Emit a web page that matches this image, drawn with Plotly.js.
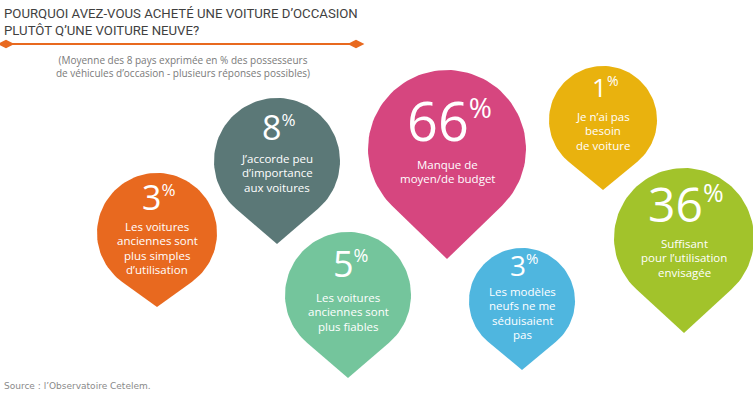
<!DOCTYPE html>
<html>
<head>
<meta charset="utf-8">
<script src="https://cdn.plot.ly/plotly-3.0.1.min.js"></script>
<style>html,body{margin:0;padding:0;background:#fff;}#chart{width:753px;height:395px;}</style>
</head>
<body>
<div id="chart"></div>
<script>
// ---- data ----
const categories = [
  "Les voitures anciennes sont plus simples d’utilisation",
  "J’accorde peu d’importance aux voitures",
  "Les voitures anciennes sont plus fiables",
  "Manque de moyen/de budget",
  "Les modèles neufs ne me séduisaient pas",
  "Je n’ai pas besoin de voiture",
  "Suffisant pour l’utilisation envisagée"
];
const values = [3, 8, 5, 66, 3, 1, 36];
const labelLines = [
  ["Les voitures", "anciennes sont", "plus simples", "d’utilisation"],
  ["J’accorde peu", "d’importance", "aux voitures"],
  ["Les voitures", "anciennes sont", "plus fiables"],
  ["Manque de", "moyen/de budget"],
  ["Les modèles", "neufs ne me", "séduisaient", "pas"],
  ["Je n’ai pas", "besoin", "de voiture"],
  ["Suffisant", "pour l’utilisation", "envisagée"]
];
const titleText = "POURQUOI AVEZ-VOUS ACHETÉ UNE VOITURE D’OCCASION<br>PLUTÔT Q’UNE VOITURE NEUVE?";
const subtitleText = "(Moyenne des 8 pays exprimée en % des possesseurs<br>de véhicules d’occasion - plusieurs réponses possibles)";
const sourceText = "Source : l’Observatoire Cetelem.";

// ---- layout (positions / sizes / styles) ----
const pinCX   = [157, 277, 348, 447, 522, 603, 684];
const pinCY   = [233, 161, 295, 149, 301, 120, 238];
const pinR    = [60, 63, 63, 79, 53, 54, 70];
const pinTipY = [307, 244, 378, 259, 370, 190, 333];
const pinColors = ["#E8691F", "#5B7877", "#74C59C", "#D6467F", "#4FB6DF", "#E9B20E", "#A2C32B"];
const numY    = [197, 127, 263, 120, 265, 87, 203];
const numSize = [34, 34, 36, 54, 28, 26, 48];
const pctSize = [17, 17, 18, 28, 15, 14, 25];
const lblY0   = [226, 158, 297, 164, 291, 116, 243];
const lblStep = 14.5;

const traces = [];
const annotations = [];

function pinPath(cx, cy, r, ty) {
  const d = ty - cy;
  const a = Math.acos(r / d);
  const xs = [], ys = [];
  const start = Math.PI / 2 - a;
  const end = Math.PI / 2 + a - 2 * Math.PI;
  const n = 90;
  for (let i = 0; i <= n; i++) {
    const t = start + (end - start) * i / n;
    xs.push(cx + r * Math.cos(t));
    ys.push(cy + r * Math.sin(t));
  }
  xs.push(cx); ys.push(ty);
  xs.push(xs[0]); ys.push(ys[0]);
  return {xs, ys};
}

for (let i = 0; i < values.length; i++) {
  const p = pinPath(pinCX[i], pinCY[i], pinR[i], pinTipY[i]);
  traces.push({
    type: "scatter", mode: "lines", x: p.xs, y: p.ys,
    fill: "toself", fillcolor: pinColors[i],
    line: {width: 0, color: pinColors[i]},
    hoverinfo: "text", text: categories[i] + " : " + values[i] + "%",
    showlegend: false
  });
  annotations.push({
    x: pinCX[i] + 2, y: numY[i], xref: "x", yref: "y",
    xanchor: "center", yanchor: "middle", showarrow: false,
    text: values[i] + "<sup><span style=\"font-size:" + pctSize[i] + "px\">%</span></sup>",
    font: {family: "Open Sans, sans-serif", size: numSize[i], color: "#ffffff"}
  });
  labelLines[i].forEach(function (line, k) {
    annotations.push({
      x: pinCX[i], y: lblY0[i] + k * lblStep, xref: "x", yref: "y",
      xanchor: "center", yanchor: "middle", showarrow: false,
      text: line,
      font: {family: "Open Sans, sans-serif", size: 11.5, color: "#ffffff"}
    });
  });
}

traces.push({
  type: "scatter", mode: "lines+markers", x: [6, 356], y: [44, 44],
  line: {color: "#E8691F", width: 2},
  marker: {symbol: "diamond-wide", size: 12, color: "#E8691F"},
  hoverinfo: "skip", showlegend: false
});

annotations.push({
  x: 2, y: 4, xref: "x", yref: "y", xanchor: "left", yanchor: "top", align: "left",
  showarrow: false, text: titleText,
  font: {family: "Roboto, sans-serif", size: 13.2, color: "#3f3f3f"}
});
annotations.push({
  x: 183, y: 51, xref: "x", yref: "y", xanchor: "center", yanchor: "top", align: "center",
  showarrow: false, text: subtitleText,
  font: {family: "Open Sans, sans-serif", size: 10, color: "#7a7a7a"}
});
annotations.push({
  x: 2, y: 386, xref: "x", yref: "y", xanchor: "left", yanchor: "middle",
  showarrow: false, text: sourceText,
  font: {family: "DejaVu Sans, sans-serif", size: 9, color: "#8a8a8a"}
});

const layout = {
  width: 753, height: 395,
  margin: {l: 0, r: 0, t: 0, b: 0},
  paper_bgcolor: "#ffffff", plot_bgcolor: "#ffffff",
  xaxis: {range: [0, 753], visible: false, fixedrange: true},
  yaxis: {range: [395, 0], visible: false, fixedrange: true},
  annotations: annotations,
  showlegend: false
};

Plotly.newPlot("chart", traces, layout, {displayModeBar: false, staticPlot: true});
</script>
</body>
</html>
